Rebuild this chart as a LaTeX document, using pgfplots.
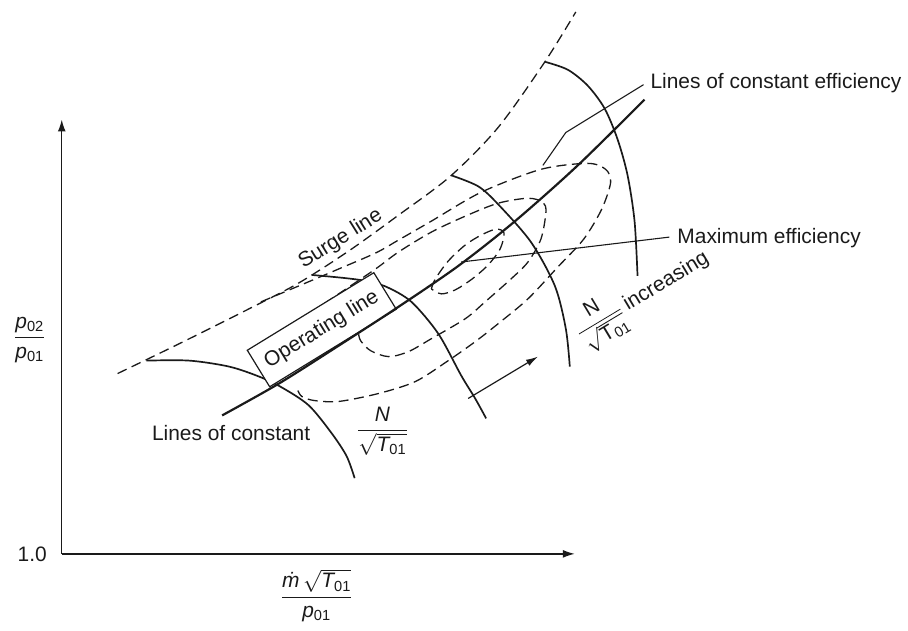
\documentclass[border=0pt]{standalone}
\usepackage{pgfplots}
\pgfplotsset{compat=1.18}
\usepackage{fontspec}
\setmainfont{Liberation Sans}
\usetikzlibrary{arrows.meta}

\definecolor{ink}{HTML}{1A1A1A}

\tikzset{
  speed/.style={ink, line width=0.85pt, smooth},
  eff/.style={ink, line width=0.65pt, dash pattern=on 5pt off 2.8pt, smooth},
  lead/.style={ink, line width=0.55pt},
}

\begin{document}
\begin{tikzpicture}[font=\fontsize{10.5}{12.5}\selectfont, text=ink]
\begin{axis}[
  x=0.5pt, y=0.5pt, y dir=reverse,
  xmin=0, xmax=908, ymin=0, ymax=633,
  axis lines=none, clip=false,
]
\path (axis cs:0,0) rectangle (axis cs:908,633);

% coordinate axes
\addplot[ink, line width=0.7pt, -{Latex[length=6pt,width=4pt]}] coordinates {(62,556) (62,120)};
\addplot[ink, line width=0.7pt, -{Latex[length=6pt,width=4pt]}] coordinates {(62,556) (577,556)};

% surge line
\addplot[eff] coordinates {(118,375) (180,345) (250,310) (300,284) (350,252) (400,216) (452,177) (500,128) (547,62) (578,12)};

% lines of constant efficiency
\addplot[eff] coordinates {(262,303) (300,287) (340,270) (377,254) (400,241) (433,222) (483,193) (543,170) (590,164) (608,170) (613,183)
  (604,210) (586,240) (560,268) (530,300) (500,325) (477,343) (450,362) (417,383) (380,395) (340,403) (315,402) (303,398) (299,392)};
\addplot[eff] coordinates {(300,322) (340,295) (377,270) (400,253) (433,233) (467,217) (500,204) (530,199) (545,203) (548,213)
  (543,240) (530,263) (513,280) (487,303) (467,320) (433,340) (410,353) (390,358) (372,352) (362,342) (360,335)};
\addplot[eff] coordinates {(433,290) (437,280) (450,262) (467,246) (483,236) (498,230) (506,234) (502,250) (490,266) (474,280) (457,291) (443,295) (433,290)};

% lines of constant N/sqrt(T01)
\addplot[speed] coordinates {(147,362) (190,362) (230,368) (260,378) (283,389) (310,407) (333,435) (348,458) (356,480)};
\addplot[speed] coordinates {(313,276) (345,279) (367,282) (388,288) (413,303) (440,335) (463,377) (477,400) (488,420)};
\addplot[speed] coordinates {(453,176) (480,187) (500,205) (533,243) (557,287) (568,330) (572,368)};
\addplot[speed] coordinates {(547,62) (570,70) (590,86) (607,109) (620,140) (630,176) (637,222) (640,277)};

% operating line label box
\node[draw=ink, line width=0.6pt, fill=white, rotate=31.5, minimum width=74.5pt, minimum height=21.5pt, inner sep=0pt]
  at (axis cs:323,331) {Operating line};

% operating line
\addplot[ink, line width=1.1pt, smooth] coordinates {(223,417) (280,385) (340,347) (400,308) (460,267) (517,222) (580,166) (647,100)};

% leaders and direction arrow
\addplot[lead] coordinates {(672,238) (463,263)};
\addplot[lead] coordinates {(646,85) (568,133) (545,166)};
\addplot[ink, line width=0.6pt, -{Latex[length=6pt,width=3.5pt]}] coordinates {(470,400) (540,358)};

% labels
\node[anchor=west] at (axis cs:646,83) {Lines of constant efficiency};
\node[anchor=west] at (axis cs:673,239) {Maximum efficiency};
\node[rotate=32] at (axis cs:342,240) {Surge line};
\node at (axis cs:232,435) {Lines of constant};
\node at (axis cs:384,433) {$\displaystyle\frac{\textit{N}}{\sqrt{\textit{T}\textsubscript{01}}}$};
\node[rotate=31] at (axis cs:645,298) {$\displaystyle\frac{\mbox{N}}{\sqrt{\mbox{T}\textsubscript{01}}}$\,increasing};
\node[anchor=east] at (axis cs:54,556) {1.0};
\node at (axis cs:30,341) {$\displaystyle\frac{\textit{p}\textsubscript{02}}{\textit{p}\textsubscript{01}}$};
\node at (axis cs:318,598) {$\displaystyle\frac{\textit{\.m}\,\sqrt{\textit{T}\textsubscript{01}}}{\textit{p}\textsubscript{01}}$};
\end{axis}
\end{tikzpicture}
\end{document}
